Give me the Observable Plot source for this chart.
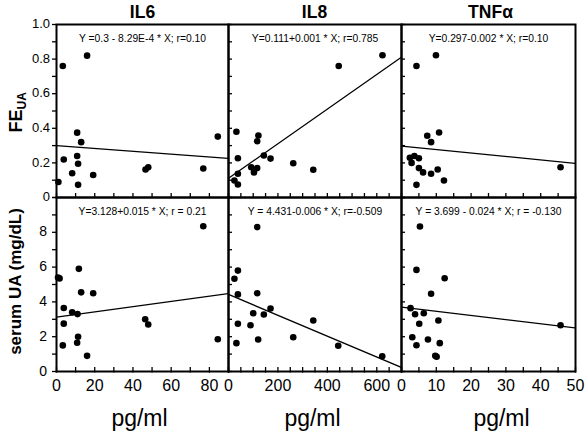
<!DOCTYPE html>
<html>
<head>
<meta charset="utf-8">
<script src="https://cdn.jsdelivr.net/npm/d3@7"></script>
<script src="https://cdn.jsdelivr.net/npm/@observablehq/plot@0.6"></script>
<style>
  html, body { margin: 0; padding: 0; background: #fff; }
  #wrap { position: relative; width: 587px; height: 437px; overflow: hidden; background: #fff; font-family: Arial, "Liberation Sans", Helvetica, sans-serif; }
  #wrap svg.plot-part { position: absolute; }
  .ylab { position: absolute; width: 40px; text-align: right; color: #000; white-space: nowrap; }
</style>
</head>
<body>
<div id="wrap"></div>
<script>
// ---------------- data ----------------
const columns = ["IL6", "IL8", "TNFα"];

// FE_UA (top row)
const il6FeX = [1, 3.3, 3.8, 8.2, 10.8, 10.8, 11.3, 11.3, 12.9, 16, 19.2, 46.6, 48, 76.8, 84.4];
const il6FeY = [0.09, 0.76, 0.22, 0.14, 0.375, 0.24, 0.195, 0.073, 0.32, 0.82, 0.13, 0.162, 0.175, 0.168, 0.352];
const il8FeX = [32, 38, 24, 38, 38, 92, 103, 116, 116, 121, 143, 170, 262, 343, 446, 623];
const il8FeY = [0.38, 0.227, 0.098, 0.075, 0.137, 0.175, 0.145, 0.17, 0.325, 0.358, 0.243, 0.225, 0.198, 0.16, 0.76, 0.822];
const tnfFeX = [2.4, 2.9, 3.7, 5, 5, 6.2, 4.3, 4.3, 7.4, 8.5, 8.5, 9.9, 10.4, 10.8, 12.2, 45.7];
const tnfFeY = [0.23, 0.2, 0.24, 0.227, 0.17, 0.145, 0.76, 0.073, 0.357, 0.32, 0.137, 0.822, 0.162, 0.376, 0.098, 0.175];

// serum UA (bottom row)
const il6UaX = [0.8, 1.6, 3.8, 3.8, 3.3, 8.2, 11, 11.7, 11.3, 10.8, 12.9, 19.2, 16, 46.4, 48, 76.8, 84.4];
const il6UaY = [5.4, 5.35, 3.65, 2.75, 1.5, 3.4, 3.3, 5.9, 2.0, 1.65, 4.55, 4.5, 0.9, 3.0, 2.7, 8.35, 1.85];
const il8UaX = [38, 24, 38, 38, 32, 116, 116, 100, 89, 120, 143, 170, 262, 343, 444, 622];
const il8UaY = [5.8, 5.33, 4.43, 2.74, 1.63, 8.3, 4.5, 3.35, 2.66, 1.84, 3.28, 3.62, 1.97, 2.93, 1.48, 0.88];
const tnfUaX = [5.3, 4.3, 12.4, 8.5, 2.6, 3.9, 6.4, 5.1, 10.6, 3.1, 4.3, 7.6, 11, 9.7, 10.1, 45.7];
const tnfUaY = [8.33, 5.84, 5.36, 4.47, 3.64, 3.29, 3.35, 2.74, 2.93, 1.97, 1.51, 1.84, 1.63, 0.9, 0.85, 2.66];

// regression coefficients and printed equations
const feIntercept = [0.3, 0.111, 0.297];
const feSlope = [-8.29e-4, 0.001, -0.002];
const uaIntercept = [3.128, 4.431, 3.699];
const uaSlope = [0.015, -0.006, -0.024];
const feEquations = ["Y =0.3 - 8.29E-4 * X; r=0.10", "Y=0.111+0.001 * X; r=0.785", "Y=0.297-0.002 * X; r=0.10"];
const uaEquations = ["Y=3.128+0.015 * X; r = 0.21", "Y = 4.431-0.006 * X; r=-0.509", "Y = 3.699 - 0.024 * X; r = -0.130"];

// axes
const il6Domain = [0, 90];
const il8Domain = [0, 700];
const tnfDomain = [0, 50];
const il6Ticks = [0, 10, 20, 30, 40, 50, 60, 70, 80, 90];
const il8Ticks = [0, 50, 100, 150, 200, 250, 300, 350, 400, 450, 500, 550, 600, 650, 700];
const tnfTicks = [0, 5, 10, 15, 20, 25, 30, 35, 40, 45, 50];
const il6Labels = [0, 20, 40, 60, 80];
const il8Labels = [0, 200, 400, 600];
const tnfLabels = [0, 10, 20, 30, 40, 50];
const feDomain = [0, 1];
const uaDomain = [0, 10];
const feTicks = [0, 0.1, 0.2, 0.3, 0.4, 0.5, 0.6, 0.7, 0.8, 0.9, 1.0];
const uaTicks = [0, 1, 2, 3, 4, 5, 6, 7, 8, 9, 10];
const feLabels = ["0", "0.2", "0.4", "0.6", "0.8", "1.0"];
const uaLabels = ["0", "2", "4", "6", "8"];
const xTitle = "pg/ml";
const yTitleTop = ["FE", "UA"];
const yTitleBottom = "serum UA (mg/dL)";

// ---------------- layout ----------------
const colX = [[56, 228], [228, 401], [401, 575]];
const rowY = [[24, 197], [197, 371]];
const M = {l: 45, r: 12, t: 12, b: 35};
const FONT = 'Arial, "Liberation Sans", Helvetica, sans-serif';
const titleDx = [0, -0.5, 2];
const pgDx = [-3, -2.5, 13];

const xDomains = [il6Domain, il8Domain, tnfDomain];
const xTickSets = [il6Ticks, il8Ticks, tnfTicks];
const xLabelSets = [il6Labels, il8Labels, tnfLabels];
const rows = [
  {xs: [il6FeX, il8FeX, tnfFeX], ys: [il6FeY, il8FeY, tnfFeY], a: feIntercept, b: feSlope, eq: feEquations,
   domain: feDomain, ticks: feTicks, labels: feLabels, fs: 13, pad: 6},
  {xs: [il6UaX, il8UaX, tnfUaX], ys: [il6UaY, il8UaY, tnfUaY], a: uaIntercept, b: uaSlope, eq: uaEquations,
   domain: uaDomain, ticks: uaTicks, labels: uaLabels, fs: 14, pad: 9}
];

const wrap = document.getElementById("wrap");

rows.forEach((R, ri) => {
  columns.forEach((c, ci) => {
    const [x0, x1] = colX[ci];
    const [y0, y1] = rowY[ri];
    const pw = x1 - x0, ph = y1 - y0;
    const xd = xDomains[ci], yd = R.domain;
    const xLen = (xd[1] - xd[0]) * 4 / pw;
    const yLen = (yd[1] - yd[0]) * 4 / ph;
    const pts = R.xs[ci].map((x, i) => ({x, y: R.ys[ci][i]}));
    const a = R.a[ci], b = R.b[ci];
    const marks = [];
    if (ci === 0) {
      marks.push(Plot.ruleY(R.ticks, {y: d => d, x1: xd[0] - xLen, x2: xd[0], stroke: "black", strokeWidth: 1.3}));
      if (ri === 0) {
        marks.push(Plot.text([yTitleTop[0]], {text: d => d, frameAnchor: "left", rotate: -90, textAnchor: "start", lineAnchor: "bottom", dx: -35, dy: 21.5, fontSize: 18, fontWeight: "bold", fill: "black"}));
        marks.push(Plot.text([yTitleTop[1]], {text: d => d, frameAnchor: "left", rotate: -90, textAnchor: "start", lineAnchor: "bottom", dx: -31, dy: -1.5, fontSize: 12, fontWeight: "bold", fill: "black"}));
      } else {
        marks.push(Plot.text([yTitleBottom], {text: d => d, frameAnchor: "left", rotate: -90, textAnchor: "middle", lineAnchor: "bottom", dx: -36, dy: -3, fontSize: 17, fontWeight: "bold", fill: "black"}));
      }
    } else {
      marks.push(Plot.ruleY(R.ticks, {y: d => d, x1: xd[0], x2: xd[0] + xLen, stroke: "black", strokeWidth: 1.3}));
    }
    marks.push(Plot.ruleX(xTickSets[ci], {x: d => d, y1: yd[0] - (ri === 1 ? yLen * 0.4 : 0), y2: yd[0] + yLen, stroke: "black", strokeWidth: 1.3}));
    if (ri === 0) {
      marks.push(Plot.text([c], {text: d => d, frameAnchor: "top", lineAnchor: "bottom", dy: -7, dx: titleDx[ci], fontSize: 17.5, fontWeight: "bold", fill: "black"}));
    } else {
      marks.push(Plot.text(xLabelSets[ci], {x: d => d, y: yd[0], text: d => String(d), lineAnchor: "top", dy: 8, fontSize: 16, fill: "black"}));
      marks.push(Plot.text([xTitle], {text: d => d, frameAnchor: "bottom", lineAnchor: "bottom", dy: 54, dx: pgDx[ci], fontSize: 23, fill: "black"}));
    }
    marks.push(Plot.line(xd, {x: d => d, y: d => a + b * d, stroke: "black", strokeWidth: 1.3, clip: true}));
    marks.push(Plot.dot(pts, {x: "x", y: "y", r: 3.3, fill: "black", stroke: null}));
    marks.push(Plot.text([R.eq[ci]], {text: d => d, frameAnchor: "top", dy: 10, fontSize: 10.3, fill: "black"}));
    marks.push(Plot.frame({stroke: "black", strokeWidth: 2}));

    const svg = Plot.plot({
      width: pw + M.l + M.r,
      height: ph + M.t + M.b,
      marginLeft: M.l, marginRight: M.r, marginTop: M.t, marginBottom: M.b,
      x: {domain: xd, axis: null},
      y: {domain: yd, axis: null},
      style: {background: "transparent", overflow: "visible", fontFamily: FONT, color: "black"},
      marks
    });
    svg.classList.add("plot-part");
    const left = x0 - M.l, top = y0 - M.t;
    svg.style.left = left + "px";
    svg.style.top = top + "px";
    wrap.appendChild(svg);

    // y tick labels of the first column, placed through the plot's own scales
    if (ci === 0) {
      const sx = svg.scale("x"), sy = svg.scale("y");
      R.labels.forEach(t => {
        const px = left + sx.apply(xd[0]) - R.pad;
        const py = top + sy.apply(+t);
        const d = document.createElement("div");
        d.className = "ylab";
        d.textContent = t;
        d.style.fontSize = R.fs + "px";
        d.style.lineHeight = (R.fs * 1.2) + "px";
        d.style.left = (px - 40) + "px";
        d.style.top = (py - R.fs * 0.6) + "px";
        wrap.appendChild(d);
      });
    }
  });
});
</script>
</body>
</html>
